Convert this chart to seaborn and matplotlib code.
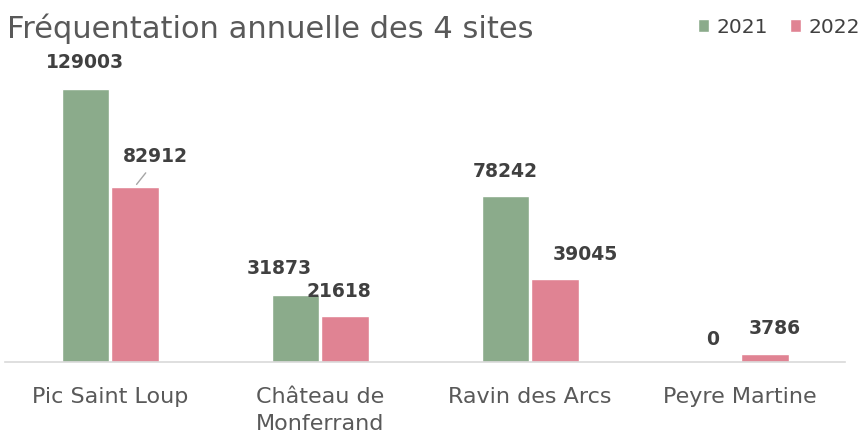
import pandas as pd
import seaborn as sns
import matplotlib.pyplot as plt

# data
sites = ['Pic Saint Loup', 'Château de\nMonferrand', 'Ravin des Arcs', 'Peyre Martine']
visits_2021 = [129003, 31873, 78242, 0]
visits_2022 = [82912, 21618, 39045, 3786]
years = ['2021', '2022']

df = pd.DataFrame({
    'site': sites * 2,
    'year': [years[0]] * 4 + [years[1]] * 4,
    'visits': visits_2021 + visits_2022,
})

sns.set_style('white')
plt.rcParams['font.family'] = ['DejaVu Sans']

fig = plt.figure(figsize=(8.59, 4.37), dpi=100)
ax = fig.add_axes([0.006, 0.1716, 0.978, 0.69])

colors = ['#8BAB8B', '#E08393']
sns.barplot(data=df, x='site', y='visits', hue='year', hue_order=years,
            palette=colors, saturation=1, width=0.47, gap=0.04, ax=ax,
            legend=True)

ax.set_ylim(0, 142500)
ax.set_xlim(-0.5, 3.5)
ax.set_xlabel('')
ax.set_ylabel('')
ax.set_yticks([])
for s in ['top', 'right', 'left']:
    ax.spines[s].set_visible(False)
ax.spines['bottom'].set_color('#D9D9D9')
ax.spines['bottom'].set_linewidth(1.2)
ax.tick_params(axis='x', length=0, labelsize=16, labelcolor='#595959', pad=18)
for lbl in ax.get_xticklabels():
    lbl.set_linespacing(1.45)
    lbl.set_verticalalignment('top')

# value labels (offsets in points, per bar: 2021 bars then 2022 bars)
offsets = [(0, 19), (-12, 19), (0, 18), (-2, 16),
           (15, 22), (-4, 18), (22, 18), (7, 18)]
bars = ax.containers[0].patches + ax.containers[1].patches
values = visits_2021 + visits_2022
for bar, val, (dx, dy) in zip(bars, values, offsets):
    x = bar.get_x() + bar.get_width() / 2
    y = bar.get_height()
    ax.annotate(str(val), (x, y), xytext=(dx, dy), textcoords='offset points',
                ha='center', va='center', fontsize=13.5, fontweight='bold',
                color='#404040')

# leader line for the 82912 label
b = ax.containers[1].patches[0]
ax.annotate('', (b.get_x() + b.get_width() / 2, b.get_height()),
            xytext=(b.get_x() + b.get_width() / 2 + 0.06, b.get_height() + 7500),
            arrowprops=dict(arrowstyle='-', color='#A6A6A6', lw=1))

ax.legend_.remove()
handles, labels = ax.get_legend_handles_labels()
leg = fig.legend(handles, labels, loc='center right',
                 bbox_to_anchor=(1.022, 0.938), ncol=2, frameon=False,
                 fontsize=14.5, handlelength=0.55, handleheight=0.55,
                 handletextpad=0.35, columnspacing=1.1)
for t in leg.get_texts():
    t.set_color('#404040')

fig.text(0.008, 0.935, 'Fréquentation annuelle des 4 sites', fontsize=22,
         color='#595959', ha='left', va='center')

plt.savefig('out.png', dpi=100)
plt.close()
